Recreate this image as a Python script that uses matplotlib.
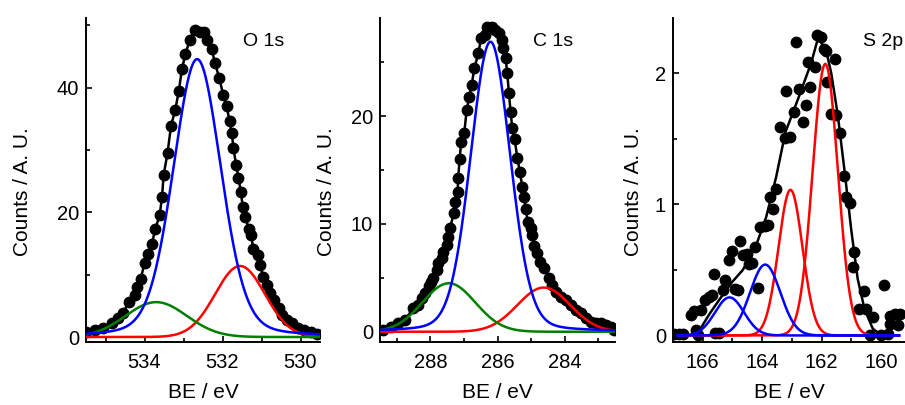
import numpy as np
import matplotlib
matplotlib.use("Agg")
import matplotlib.pyplot as plt
from matplotlib.ticker import MultipleLocator

plt.rcParams['font.family'] = ['Liberation Sans', 'DejaVu Sans']

# ---------------- O 1s ----------------
o1s_be = [535.50, 535.27, 535.06, 534.84, 534.67, 534.54, 534.41, 534.24, 534.20, 534.10,
          534.00, 533.90, 533.81, 533.72, 533.61, 533.55, 533.51, 533.41, 533.32, 533.21,
          533.12, 533.04, 532.95, 532.84, 532.71, 532.58, 532.48, 532.39, 532.28, 532.19,
          532.08, 531.98, 531.89, 531.82, 531.76, 531.72, 531.65, 531.59, 531.53, 531.48,
          531.42, 531.33, 531.27, 531.21, 531.10, 531.03, 530.96, 530.86, 530.77, 530.69,
          530.56, 530.47, 530.34, 530.21, 530.07, 529.91, 529.74, 529.57]
o1s_counts = [0.75, 1.1, 1.5, 2.2, 3.1, 3.8, 5.7, 6.7, 8.1, 9.3,
              11.8, 13.3, 15.0, 17.4, 19.6, 22.5, 26.0, 29.5, 33.9, 36.5,
              39.5, 43.0, 45.4, 47.7, 49.3, 48.9, 49.0, 47.7, 46.3, 43.9,
              41.5, 38.8, 37.0, 34.6, 32.7, 30.3, 27.6, 25.5, 23.3, 20.9,
              19.3, 17.4, 16.4, 14.2, 13.2, 11.6, 9.7, 8.3, 7.0, 5.9,
              4.6, 3.5, 2.7, 2.2, 1.5, 1.1, 0.85, 0.43]
o1s_peak_center = [532.65, 531.55, 533.70]
o1s_peak_height = [44.6, 11.4, 5.6]
o1s_peak_fwhm = [1.45, 1.5, 1.85]
o1s_peak_lorentz = [0.2, 0.0, 0.0]
o1s_peak_color = ['#0000FF', '#FF0000', '#008000']

# ---------------- C 1s ----------------
c1s_be = [289.40, 289.16, 288.96, 288.76, 288.51, 288.38, 288.26, 288.16, 288.04, 287.98,
          287.91, 287.81, 287.76, 287.66, 287.61, 287.51, 287.46, 287.41, 287.31, 287.26,
          287.19, 287.17, 287.13, 287.08, 286.99, 286.92, 286.84, 286.77, 286.69, 286.57,
          286.49, 286.37, 286.32, 286.17, 286.07, 285.96, 285.86, 285.83, 285.76, 285.71,
          285.66, 285.61, 285.56, 285.49, 285.41, 285.33, 285.26, 285.21, 285.16, 285.10,
          285.01, 284.96, 284.92, 284.81, 284.72, 284.62, 284.47, 284.37, 284.27, 284.12,
          283.97, 283.82, 283.67, 283.52, 283.37, 283.22, 283.07, 282.93, 282.78, 282.63,
          282.53]
c1s_counts = [0.16, 0.46, 0.78, 1.09, 2.17, 2.48, 3.1, 3.56, 4.27, 4.64,
              4.95, 5.72, 6.34, 6.81, 7.42, 8.04, 8.81, 9.59, 10.98, 12.06,
              12.99, 14.23, 16.0, 17.63, 18.40, 20.57, 21.80, 22.89, 24.43, 25.83,
              27.22, 27.52, 28.29, 28.25, 28.0, 27.7, 27.06, 26.3, 25.4, 24.0,
              22.1, 20.4, 18.9, 17.9, 16.1, 14.8, 13.4, 12.5, 11.4, 10.2,
              9.6, 9.0, 8.0, 7.3, 6.5, 5.9, 5.0, 4.3, 3.7, 3.25,
              2.9, 2.5, 2.0, 1.7, 1.24, 0.93, 0.78, 0.78, 0.62, 0.46,
              0.16]
c1s_peak_center = [286.21, 284.62, 287.45]
c1s_peak_height = [26.9, 4.1, 4.5]
c1s_peak_fwhm = [1.4, 1.85, 1.85]
c1s_peak_lorentz = [0.15, 0.0, 0.0]
c1s_peak_color = ['#0000FF', '#FF0000', '#008000']

# ---------------- S 2p ----------------
s2p_be = [166.95, 166.80, 166.65, 166.39, 166.28, 166.22, 166.15, 166.05, 165.94, 165.80,
          165.68, 165.60, 165.63, 165.45, 165.33, 165.24, 165.13, 165.01, 164.93, 164.82,
          164.74, 164.63, 164.52, 164.43, 164.34, 164.23, 164.15, 164.07, 163.92, 163.81,
          163.73, 163.65, 163.55, 163.39, 163.24, 163.19, 163.08, 162.92, 162.86, 162.75,
          162.64, 162.52, 162.45, 162.41, 162.24, 162.15, 162.04, 161.93, 161.85, 161.82,
          161.68, 161.57, 161.51, 161.37, 161.26, 161.20, 161.04, 160.95, 160.90, 160.73,
          160.58, 160.50, 160.39, 160.28, 160.00, 159.91, 159.78, 159.72, 159.72, 159.55,
          159.44, 159.38]
s2p_counts = [0.01, 0.01, 0.01, 0.158, 0.183, 0.043, 0.0, 0.193, 0.267, 0.292,
              0.305, 0.02, 0.470, 0.02, 0.343, 0.419, 0.577, 0.640, 0.351, 0.343,
              0.719, 0.615, 0.623, 0.546, 0.554, 0.678, 0.364, 0.825, 0.838, 0.844,
              1.059, 0.966, 1.118, 1.588, 1.504, 1.860, 1.511, 1.702, 2.235, 1.880,
              1.626, 1.753, 2.083, 1.893, 2.045, 2.292, 2.274, 2.185, 2.165, 1.931,
              1.690, 2.109, 1.677, 1.545, 1.214, 1.054, 1.011, 0.521, 0.635, 0.204,
              0.338, 0.198, 0.0, 0.139, 0.005, 0.386, 0.013, 0.152, 0.089, 0.165,
              0.076, 0.165]
s2p_fit_be = [166.22, 166.00, 165.77, 165.42, 165.00, 164.65, 164.20, 163.87, 163.53, 163.22,
              162.80, 162.35, 162.12, 161.85, 161.68, 161.46, 161.23, 161.01, 160.79, 160.56,
              160.28, 160.00, 159.90]
s2p_fit_counts = [0.0, 0.08, 0.165, 0.28, 0.41, 0.50, 0.69, 0.90, 1.21, 1.55,
                  1.80, 2.08, 2.27, 2.17, 2.00, 1.68, 1.25, 0.81, 0.43, 0.20,
                  0.05, 0.005, 0.0]
s2p_peak_center = [161.88, 163.05, 163.90, 165.10]
s2p_peak_height = [2.07, 1.11, 0.54, 0.29]
s2p_peak_fwhm = [1.0, 0.95, 1.2, 1.15]
s2p_peak_lorentz = [0.0, 0.0, 0.0, 0.0]
s2p_peak_color = ['#FF0000', '#FF0000', '#0000FF', '#0000FF']


def pseudo_voigt(x, center, height, fwhm, frac):
    d2 = 4.0 * (x - center) ** 2 / fwhm ** 2
    gauss = np.exp(-np.log(2.0) * d2)
    lorentz = 1.0 / (1.0 + d2)
    return height * ((1.0 - frac) * gauss + frac * lorentz)


fig = plt.figure(figsize=(9.05, 4.05), dpi=100)

panels = [
    dict(rect=[86 / 905, 63 / 405, 234 / 905, 324 / 405], xlim=(535.5, 529.5), ylim=(-0.8, 51.2),
         ymaj=20, ymin=10, name='O 1s', name_x=0.671, ylab_x=-0.272,
         be=o1s_be, counts=o1s_counts, fit_be=None, fit_counts=None,
         pc=o1s_peak_center, ph=o1s_peak_height, pw=o1s_peak_fwhm, pl=o1s_peak_lorentz,
         col=o1s_peak_color, comp_range=(535.5, 529.5)),
    dict(rect=[380 / 905, 63 / 405, 235 / 905, 324 / 405], xlim=(289.5, 282.5), ylim=(-0.95, 29.1),
         ymaj=10, ymin=5, name='C 1s', name_x=0.651, ylab_x=-0.227,
         be=c1s_be, counts=c1s_counts, fit_be=None, fit_counts=None,
         pc=c1s_peak_center, ph=c1s_peak_height, pw=c1s_peak_fwhm, pl=c1s_peak_lorentz,
         col=c1s_peak_color, comp_range=(289.5, 282.5)),
    dict(rect=[673 / 905, 63 / 405, 232 / 905, 324 / 405], xlim=(167.0, 159.2), ylim=(-0.05, 2.42),
         ymaj=1, ymin=0.5, name='S 2p', name_x=0.819, ylab_x=-0.172,
         be=s2p_be, counts=s2p_counts, fit_be=s2p_fit_be, fit_counts=s2p_fit_counts,
         pc=s2p_peak_center, ph=s2p_peak_height, pw=s2p_peak_fwhm, pl=s2p_peak_lorentz,
         col=s2p_peak_color, comp_range=(166.85, 159.4)),
]

for p in panels:
    ax = fig.add_axes(p['rect'])
    ax.set_xlim(*p['xlim'])
    ax.set_ylim(*p['ylim'])

    # measured spectrum
    if p['fit_be'] is None:
        ax.plot(p['be'], p['counts'], '-', color='black', lw=1.8,
                marker='o', ms=7.5, mfc='black', mec='black', zorder=3)
    else:
        ax.plot(p['be'], p['counts'], 'o', color='black', ms=7.5, zorder=2)
        ax.plot(p['fit_be'], p['fit_counts'], '-', color='black', lw=1.8, zorder=3)

    # fitted components
    xs = np.linspace(p['comp_range'][0], p['comp_range'][1], 600)
    for c, h, w, m, col in zip(p['pc'], p['ph'], p['pw'], p['pl'], p['col']):
        z = 5 if col == '#0000FF' else 4
        ax.plot(xs, pseudo_voigt(xs, c, h, w, m), '-', color=col, lw=1.8, zorder=z)

    for side in ('top', 'right'):
        ax.spines[side].set_visible(False)
    for side in ('left', 'bottom'):
        ax.spines[side].set_linewidth(1.4)

    ax.xaxis.set_major_locator(MultipleLocator(2))
    ax.xaxis.set_minor_locator(MultipleLocator(1))
    ax.yaxis.set_major_locator(MultipleLocator(p['ymaj']))
    ax.yaxis.set_minor_locator(MultipleLocator(p['ymin']))
    ax.tick_params(which='both', direction='in', width=1.2)
    ax.tick_params(which='major', length=4)
    ax.tick_params(which='minor', length=3)
    ax.tick_params(axis='x', which='major', labelsize=14.5, pad=8)
    ax.tick_params(axis='y', which='major', labelsize=14.5, pad=5)

    ax.set_xlabel('BE / eV', fontsize=15)
    ax.xaxis.set_label_coords(0.5, -0.157)
    ax.xaxis.label.set_va('center')
    ax.set_ylabel('Counts / A. U.', fontsize=15)
    ax.yaxis.set_label_coords(p['ylab_x'], 0.465)
    ax.yaxis.label.set_va('center')

    ax.text(p['name_x'], 0.927, p['name'], transform=ax.transAxes,
            fontsize=14, ha='left', va='center')

fig.savefig('out.png', dpi=100)
